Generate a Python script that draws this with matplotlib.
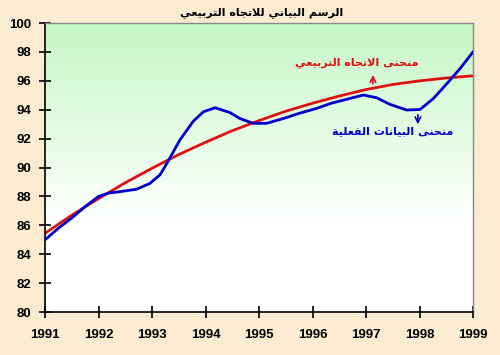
import numpy as np
import matplotlib.pyplot as plt
from matplotlib.colors import LinearSegmentedColormap

# values (year, value)
actual_years = [1991.0, 1991.25, 1991.53, 1991.75, 1992.0, 1992.2, 1992.34, 1992.71,
                1992.96, 1993.15, 1993.28, 1993.52, 1993.77, 1993.96, 1994.18, 1994.46,
                1994.64, 1994.89, 1995.14, 1995.46, 1995.75, 1996.08, 1996.35, 1996.58,
                1996.95, 1997.2, 1997.45, 1997.76, 1998.01, 1998.26, 1998.51, 1998.76, 1999.0]
actual_values = [85.0, 85.8, 86.6, 87.3, 88.0, 88.25, 88.3, 88.5,
                 88.9, 89.5, 90.3, 91.9, 93.2, 93.86, 94.14, 93.8,
                 93.4, 93.06, 93.06, 93.4, 93.75, 94.1, 94.45, 94.67,
                 95.02, 94.83, 94.37, 93.98, 94.02, 94.78, 95.8, 96.86, 98.0]

trend_years = [1991.0, 1991.5, 1992.0, 1992.5, 1993.0, 1993.5, 1994.0, 1994.5, 1995.0,
               1995.5, 1996.0, 1996.5, 1997.0, 1997.5, 1998.0, 1998.5, 1999.0]
trend_values = [85.45, 86.7, 87.85, 88.95, 89.95, 90.9, 91.75, 92.55, 93.25,
                93.9, 94.45, 94.95, 95.4, 95.75, 96.0, 96.2, 96.35]

year_ticks = list(range(1991, 2000))
value_ticks = list(range(80, 101, 2))

title = 'الرسم البياني للاتجاه التربيعي'
trend_label = 'منحنى الاتجاه التربيعي'
actual_label = 'منحنى البيانات الفعلية'

# matplotlib has no Arabic shaping, so join letters by hand
FORMS = {
    'ا': ('\uFE8D', '\uFE8E', None, None),
    'ب': ('\uFE8F', '\uFE90', '\uFE91', '\uFE92'),
    'ة': ('\uFE93', '\uFE94', None, None),
    'ت': ('\uFE95', '\uFE96', '\uFE97', '\uFE98'),
    'ج': ('\uFE9D', '\uFE9E', '\uFE9F', '\uFEA0'),
    'ح': ('\uFEA1', '\uFEA2', '\uFEA3', '\uFEA4'),
    'ر': ('\uFEAD', '\uFEAE', None, None),
    'س': ('\uFEB1', '\uFEB2', '\uFEB3', '\uFEB4'),
    'ع': ('\uFEC9', '\uFECA', '\uFECB', '\uFECC'),
    'ف': ('\uFED1', '\uFED2', '\uFED3', '\uFED4'),
    'ل': ('\uFEDD', '\uFEDE', '\uFEDF', '\uFEE0'),
    'م': ('\uFEE1', '\uFEE2', '\uFEE3', '\uFEE4'),
    'ن': ('\uFEE5', '\uFEE6', '\uFEE7', '\uFEE8'),
    'ه': ('\uFEE9', '\uFEEA', '\uFEEB', '\uFEEC'),
    'ى': ('\uFEEF', '\uFEF0', None, None),
    'ي': ('\uFEF1', '\uFEF2', '\uFEF3', '\uFEF4'),
}


def joins_next(c):
    return c in FORMS and FORMS[c][2] is not None


def shape(text):
    out = []
    i = 0
    while i < len(text):
        c = text[i]
        if c not in FORMS:
            out.append(c)
            i += 1
            continue
        linked_prev = i > 0 and joins_next(text[i - 1])
        if c == 'ل' and i + 1 < len(text) and text[i + 1] == 'ا':
            out.append('\uFEFC' if linked_prev else '\uFEFB')
            i += 2
            continue
        linked_next = joins_next(c) and i + 1 < len(text) and text[i + 1] in FORMS
        iso, fin, ini, med = FORMS[c]
        if linked_prev and linked_next:
            out.append(med)
        elif linked_prev:
            out.append(fin)
        elif linked_next:
            out.append(ini)
        else:
            out.append(iso)
        i += 1
    return ''.join(reversed(out))


plt.rcParams['font.family'] = ['Liberation Sans', 'DejaVu Sans']
plt.rcParams['font.weight'] = 'bold'

fig = plt.figure(figsize=(5, 3.55), dpi=100, facecolor='#fbebd0')
ax = fig.add_axes([0.09, 0.121, 0.856, 0.814])

# green to white gradient inside the plot area
grad = LinearSegmentedColormap.from_list('g', [(0, 'white'), (0.3, 'white'), (1, '#c6f7c6')])
ax.imshow(np.linspace(0, 1, 256).reshape(-1, 1), cmap=grad, aspect='auto',
          extent=[0, 1, 0, 1], transform=ax.transAxes, origin='lower', zorder=0)

ax.plot(actual_years, actual_values, color='#0000cc', lw=2, zorder=3)
ax.plot(trend_years, trend_values, color='#dd1111', lw=2, zorder=2)

ax.set_xlim(1991, 1999)
ax.set_ylim(80, 100)
ax.set_xticks(year_ticks)
ax.set_yticks(value_ticks)
ax.tick_params(direction='inout', length=8, width=1.2, labelsize=9.5)
ax.tick_params(axis='x', pad=8)
ax.tick_params(axis='y', pad=6)
for lab in ax.get_xticklabels() + ax.get_yticklabels():
    lab.set_fontweight('bold')
for s in ['left', 'bottom']:
    ax.spines[s].set_color('black')
    ax.spines[s].set_linewidth(1.2)
for s in ['top', 'right']:
    ax.spines[s].set_color('#888888')
    ax.spines[s].set_linewidth(1)

fig.text(0.524, 0.965, shape(title), ha='center', va='center', fontsize=8,
         fontweight='bold', family=['DejaVu Sans'])
ax.text(1996.82, 97.3, shape(trend_label), ha='center', va='center', fontsize=8,
        fontweight='bold', color='#dd1111', family=['DejaVu Sans'])
ax.annotate('', xy=(1997.13, 96.6), xytext=(1997.13, 95.6),
            arrowprops=dict(arrowstyle='->', color='#dd1111', lw=1.2))
ax.text(1997.5, 92.55, shape(actual_label), ha='center', va='center', fontsize=8,
        fontweight='bold', color='#0000cc', family=['DejaVu Sans'])
ax.annotate('', xy=(1997.97, 92.8), xytext=(1997.97, 93.85),
            arrowprops=dict(arrowstyle='->', color='#0000cc', lw=1.2))

fig.savefig('out.png', dpi=100, facecolor=fig.get_facecolor())
